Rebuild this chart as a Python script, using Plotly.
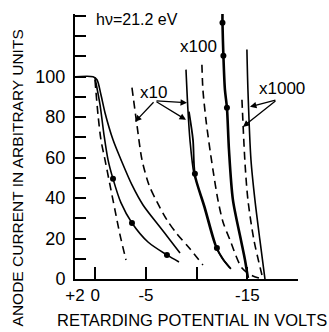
import plotly.graph_objects as go

# ---- data (retarding potential in volts, anode current in arbitrary units) ----
# x1 curves
x1_solid_v = [2.0, 0.22, -0.17, -0.56, -0.96, -1.75, -2.54, -3.62, -4.71, -6.38, -7.37, -8.36]
x1_solid_i = [100, 100, 98.5, 91.1, 82.2, 68.8, 58.9, 46.5, 36.6, 25.7, 19.3, 12.9]

x1_dot_v = [0.03, -0.47, -0.86, -1.26, -1.75, -2.54, -3.62, -5.2, -7.07, -8.26]
x1_dot_i = [99.5, 86.1, 71.3, 58.9, 49.5, 37.6, 27.7, 18.3, 11.9, 8.4]
x1_mark_v = [-1.75, -3.62, -7.07]
x1_mark_i = [49.5, 27.7, 11.9]

x1_dash_v = [0.03, -0.27, -0.56, -0.96, -1.45, -1.94, -2.44, -3.03]
x1_dash_i = [98.5, 81.2, 68.8, 58.9, 46.5, 34.2, 21.8, 9.4]

# x10 curves
x10_dash_v = [-3.62, -4.11, -4.61, -5.3, -6.09, -7.07, -8.06, -9.34, -10.62]
x10_dash_i = [94.6, 76.2, 58.9, 46.5, 38.1, 29.2, 22.3, 14.9, 6.9]

x10_solid_v = [-8.95, -9.14, -9.34, -9.74, -10.72, -11.81, -12.5, -13.29]
x10_solid_i = [103.5, 83.7, 68.8, 52.0, 35.6, 16.8, 10.4, 5.4]

x10_dot_v = [-9.24, -9.64, -9.83, -10.82, -12.0, -12.6, -13.38]
x10_dot_i = [82.7, 68.8, 52.0, 35.6, 15.3, 9.9, 5.0]
x10_mark_v = [-9.83, -12.0]
x10_mark_i = [52.0, 15.3]

# x100 curves
x100_dash_v = [-10.52, -10.62, -10.92, -11.22, -11.61, -12.1, -12.6, -13.29, -14.47, -15.55, -16.54]
x100_dash_i = [105.9, 93.6, 78.7, 67.3, 54.0, 39.1, 28.2, 19.3, 5.4, 1.5, 0]

x100_solid_v = [-12.55, -12.55, -12.64, -12.79, -12.99, -13.19, -13.58, -14.37, -14.77, -15.06]
x100_solid_i = [131, 126.7, 110.4, 93.6, 84.7, 63.9, 39.1, 19.3, 9.4, 0.5]
x100_mark_v = [-12.55, -12.64, -12.99]
x100_mark_i = [126.7, 110.4, 84.7]

# x1000 curves
x1000_dash_v = [-14.47, -14.77, -15.06, -15.65, -16.54]
x1000_dash_i = [88.6, 57.4, 39.1, 19.3, 0]

x1000_solid_v = [-14.96, -15.06, -15.36, -15.75, -16.24, -16.74]
x1000_solid_i = [113.4, 93.6, 58.9, 39.1, 19.3, 0]

# ticks
x_tickvals = [2, 0, -5, -10, -15, -20]
x_ticktext = ["+2", "0", "-5", "", "-15", ""]
y_tickvals = [0, 10, 20, 30, 40, 50, 60, 70, 80, 90, 100, 110, 120, 130]
y_ticktext = ["0", "", "20", "", "40", "", "60", "", "80", "", "100", "", "", ""]

FONT = "Liberation Sans, Arial, sans-serif"
DASH = "8px,5px"

fig = go.Figure()


def line(v, i, dash="solid", width=1.6):
    fig.add_trace(go.Scatter(x=v, y=i, mode="lines",
                             line=dict(color="black", width=width, dash=dash, shape="spline", smoothing=0.8),
                             hoverinfo="skip", showlegend=False))


def marks(v, i):
    fig.add_trace(go.Scatter(x=v, y=i, mode="markers",
                             marker=dict(color="black", size=6),
                             hoverinfo="skip", showlegend=False))


line(x1_solid_v, x1_solid_i)
line(x1_dot_v, x1_dot_i)
marks(x1_mark_v, x1_mark_i)
line(x1_dash_v, x1_dash_i, DASH)

line(x10_dash_v, x10_dash_i, DASH)
line(x10_solid_v, x10_solid_i)
line(x10_dot_v, x10_dot_i, width=1.8)
marks(x10_mark_v, x10_mark_i)

line(x100_dash_v, x100_dash_i, DASH)
line(x100_solid_v, x100_solid_i, width=2.6)
marks(x100_mark_v, x100_mark_i)

line(x1000_dash_v, x1000_dash_i, DASH)
line(x1000_solid_v, x1000_solid_i)

C = dict(xanchor="center", yanchor="middle")
annotations = [
    dict(text="h\u03bd=21.2 eV", xref="paper", yref="paper", x=0.278, y=0.981,
         showarrow=False, font=dict(size=16, family=FONT, color="black"), **C),
    dict(text="ANODE CURRENT IN ARBITRARY UNITS", xref="paper", yref="paper",
         x=-0.256, y=0.383, textangle=-90, showarrow=False,
         font=dict(size=15.5, family=FONT, color="black"), **C),
    dict(text="RETARDING POTENTIAL IN VOLTS", xref="paper", yref="paper",
         x=0.525, y=-0.155, showarrow=False,
         font=dict(size=16.5, family=FONT, color="black"), **C),
    dict(text="x10", x=-5.79, y=92.1, showarrow=False,
         font=dict(size=17, family=FONT, color="black"), **C),
    dict(text="x100", x=-10.23, y=114.9, showarrow=False,
         font=dict(size=17, family=FONT, color="black"), **C),
    dict(text="x1000", x=-18.41, y=94.1, showarrow=False,
         font=dict(size=17, family=FONT, color="black"), **C),
]
arrows = [
    (-5.89, 88.1, -3.92, 77.7),
    (-5.89, 88.1, -9.05, 87.1),
    (-5.89, 88.1, -8.95, 78.7),
    (-17.92, 88.6, -15.26, 85.1),
    (-17.92, 88.6, -14.57, 75.2),
]
for ax_, ay_, hx, hy in arrows:
    annotations.append(dict(text="", x=hx, y=hy, ax=ax_, ay=ay_, axref="x", ayref="y",
                            showarrow=True, arrowhead=2, arrowsize=1, arrowwidth=1.3,
                            arrowcolor="black", standoff=0, startstandoff=0))

fig.update_layout(
    width=329, height=332,
    margin=dict(l=75, r=31, t=14, b=53, pad=0),
    paper_bgcolor="white", plot_bgcolor="white",
    showlegend=False,
    annotations=annotations,
    xaxis=dict(range=[2, -20], showgrid=False, zeroline=False,
               showline=True, linecolor="black", linewidth=2,
               ticks="inside", ticklen=12, tickwidth=2, tickcolor="black",
               tickvals=x_tickvals, ticktext=x_ticktext, ticklabelstandoff=0,
               tickfont=dict(size=17, family=FONT, color="black")),
    yaxis=dict(range=[0, 131], showgrid=False, zeroline=False,
               showline=True, linecolor="black", linewidth=2,
               ticks="inside", ticklen=11, tickwidth=2, tickcolor="black",
               tickvals=y_tickvals, ticktext=y_ticktext, ticklabelstandoff=4,
               tickfont=dict(size=18, family=FONT, color="black")),
)

fig.write_html("out.html",
               config={"displayModeBar": False, "staticPlot": True},
               post_script="document.body.style.margin='0';document.body.style.overflow='hidden';")
